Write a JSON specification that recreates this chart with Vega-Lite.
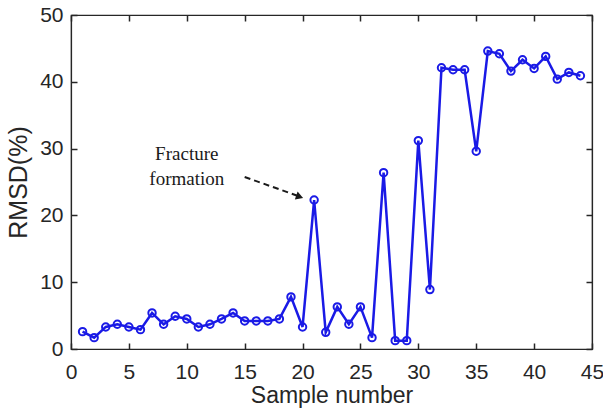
{
  "$schema": "https://vega.github.io/schema/vega-lite/v6.json",
  "width": 521,
  "height": 334,
  "autosize": {"type": "none"},
  "padding": {"left": 71, "top": 15, "right": 11, "bottom": 60},
  "background": "white",
  "config": {
    "view": {"stroke": "#262626", "strokeWidth": 1.2},
    "axis": {
      "grid": false,
      "domainColor": "#262626",
      "tickColor": "#262626",
      "labelColor": "#262626",
      "titleColor": "#262626",
      "labelFont": "Liberation Sans",
      "titleFont": "Liberation Sans",
      "labelFontSize": 21,
      "titleFontSize": 23,
      "titleFontWeight": "normal",
      "tickSize": -6,
      "tickWidth": 1.5,
      "domainWidth": 1.2
    }
  },
  "datasets": {
    "rmsd": [
      {"sample": 1, "rmsd": 2.6},
      {"sample": 2, "rmsd": 1.7},
      {"sample": 3, "rmsd": 3.3},
      {"sample": 4, "rmsd": 3.7},
      {"sample": 5, "rmsd": 3.3},
      {"sample": 6, "rmsd": 2.9},
      {"sample": 7, "rmsd": 5.4},
      {"sample": 8, "rmsd": 3.7},
      {"sample": 9, "rmsd": 4.9},
      {"sample": 10, "rmsd": 4.5},
      {"sample": 11, "rmsd": 3.3},
      {"sample": 12, "rmsd": 3.7},
      {"sample": 13, "rmsd": 4.5},
      {"sample": 14, "rmsd": 5.4},
      {"sample": 15, "rmsd": 4.2},
      {"sample": 16, "rmsd": 4.2},
      {"sample": 17, "rmsd": 4.2},
      {"sample": 18, "rmsd": 4.5},
      {"sample": 19, "rmsd": 7.8},
      {"sample": 20, "rmsd": 3.3},
      {"sample": 21, "rmsd": 22.3},
      {"sample": 22, "rmsd": 2.5},
      {"sample": 23, "rmsd": 6.3},
      {"sample": 24, "rmsd": 3.7},
      {"sample": 25, "rmsd": 6.3},
      {"sample": 26, "rmsd": 1.7},
      {"sample": 27, "rmsd": 26.4},
      {"sample": 28, "rmsd": 1.25},
      {"sample": 29, "rmsd": 1.25},
      {"sample": 30, "rmsd": 31.2},
      {"sample": 31, "rmsd": 8.9},
      {"sample": 32, "rmsd": 42.1},
      {"sample": 33, "rmsd": 41.8},
      {"sample": 34, "rmsd": 41.8},
      {"sample": 35, "rmsd": 29.6},
      {"sample": 36, "rmsd": 44.6},
      {"sample": 37, "rmsd": 44.2},
      {"sample": 38, "rmsd": 41.6},
      {"sample": 39, "rmsd": 43.3},
      {"sample": 40, "rmsd": 42.0},
      {"sample": 41, "rmsd": 43.8},
      {"sample": 42, "rmsd": 40.4},
      {"sample": 43, "rmsd": 41.4},
      {"sample": 44, "rmsd": 40.9}
    ],
    "labels": [
      {"x": 10.0, "y": 28.3, "text": "Fracture"},
      {"x": 10.0, "y": 24.55, "text": "formation"}
    ],
    "arrow": [
      {"x": 15.0, "y": 25.75, "x2": 19.55, "y2": 22.95}
    ],
    "head": [
      {"x": 19.75, "y": 22.8}
    ]
  },
  "resolve": {"axis": {"x": "independent", "y": "independent"}},
  "layer": [
    {
      "data": {"name": "rmsd"},
      "mark": {"type": "line", "color": "#1a1ae6", "strokeWidth": 2.5},
      "encoding": {
        "x": {
          "field": "sample", "type": "quantitative",
          "scale": {"domain": [0, 45], "nice": false, "zero": false},
          "axis": {"values": [0, 5, 10, 15, 20, 25, 30, 35, 40, 45], "title": "Sample number", "labelPadding": 18, "titlePadding": 2, "labelFlush": false}
        },
        "y": {
          "field": "rmsd", "type": "quantitative",
          "scale": {"domain": [0, 50], "nice": false},
          "axis": {"values": [0, 10, 20, 30, 40, 50], "title": "RMSD(%)", "titleFontSize": 25, "labelPadding": 14, "titlePadding": 8, "labelFlush": false}
        }
      }
    },
    {
      "data": {"name": "rmsd"},
      "mark": {"type": "point", "shape": "circle", "filled": false, "color": "#1a1ae6", "strokeWidth": 2, "size": 55, "opacity": 1},
      "encoding": {
        "x": {"field": "sample", "type": "quantitative", "axis": {"orient": "top", "values": [0, 5, 10, 15, 20, 25, 30, 35, 40, 45], "labels": false, "title": null}},
        "y": {"field": "rmsd", "type": "quantitative", "axis": {"orient": "right", "values": [0, 10, 20, 30, 40, 50], "labels": false, "title": null}}
      }
    },
    {
      "data": {"name": "labels"},
      "mark": {"type": "text", "font": "Liberation Serif", "fontSize": 19, "color": "#1a1a1a", "align": "center", "baseline": "alphabetic"},
      "encoding": {
        "x": {"field": "x", "type": "quantitative", "axis": null},
        "y": {"field": "y", "type": "quantitative", "axis": null},
        "text": {"field": "text"}
      }
    },
    {
      "data": {"name": "arrow"},
      "mark": {"type": "rule", "color": "#1a1a1a", "strokeWidth": 2, "strokeDash": [6, 4]},
      "encoding": {
        "x": {"field": "x", "type": "quantitative", "axis": null},
        "y": {"field": "y", "type": "quantitative", "axis": null},
        "x2": {"field": "x2"},
        "y2": {"field": "y2"}
      }
    },
    {
      "data": {"name": "head"},
      "mark": {"type": "point", "shape": "triangle-right", "filled": true, "color": "#1a1a1a", "size": 70, "angle": 19, "opacity": 1},
      "encoding": {
        "x": {"field": "x", "type": "quantitative", "axis": null},
        "y": {"field": "y", "type": "quantitative", "axis": null}
      }
    }
  ]
}
